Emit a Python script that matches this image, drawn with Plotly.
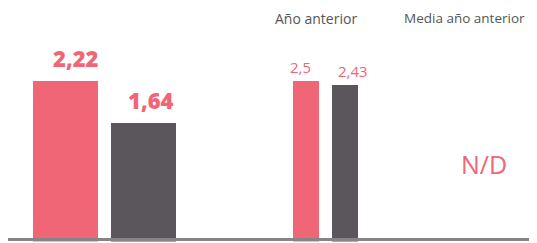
import plotly.graph_objects as go

# Data
series = ["Actual", "Comparativa"]
colors = ["#F06677", "#5A565B"]
current_values = [2.22, 1.64]
previous_values = [2.5, 2.43]
header_labels = ["Año anterior", "Media año anterior"]
missing_label = "N/D"

def fmt(v):
    return str(v).replace(".", ",")

# The page body has an 8px default margin; compensate so the picture lines up.
OFF = 8
W, H = 537 - OFF, 243 - OFF
FONT = "Open Sans"

def px(x):
    return (x - OFF) / W

def py(y):
    return 1 - (y - OFF) / H

fig = go.Figure()

fig.add_trace(go.Bar(
    x=series, y=current_values, marker=dict(color=colors, line=dict(width=0)),
    width=0.833, xaxis="x", yaxis="y", hoverinfo="skip", showlegend=False,
))
fig.add_trace(go.Bar(
    x=series, y=previous_values, marker=dict(color=colors, line=dict(width=0)),
    width=0.667, xaxis="x2", yaxis="y2", hoverinfo="skip", showlegend=False,
))

annotations = []
big_shifts = [10.5, 7]
for s, v, xs in zip(series, current_values, big_shifts):
    annotations.append(dict(
        x=s, y=v, xref="x", yref="y", text=fmt(v), showarrow=False,
        xanchor="center", yanchor="bottom", xshift=xs, yshift=6,
        font=dict(family=FONT, size=22, color=colors[0], weight=800),
    ))
small_shifts = [-6, 7.5]
for s, v, xs in zip(series, previous_values, small_shifts):
    annotations.append(dict(
        x=s, y=v, xref="x2", yref="y2", text=fmt(v), showarrow=False,
        xanchor="center", yanchor="bottom", xshift=xs, yshift=2,
        font=dict(family=FONT, size=15, color=colors[0]),
    ))
header_pos = [(316, "center", 14), (526, "right", 13.5)]
for lab, (hx, anchor, fs) in zip(header_labels, header_pos):
    annotations.append(dict(
        x=px(hx), y=1, xref="paper", yref="paper", text=lab,
        showarrow=False, xanchor=anchor, yanchor="top", borderpad=0,
        font=dict(family=FONT, size=fs, color="#555555"),
    ))
annotations.append(dict(
    x=px(484), y=py(164), xref="paper", yref="paper", text=missing_label,
    showarrow=False, xanchor="center", yanchor="middle",
    font=dict(family=FONT, size=25, color=colors[0]),
))

bottom_px = 241.5
top_px_max = 81
scale_h = bottom_px - top_px_max
dom_h = bottom_px - OFF  # from figure top to bar bottom

fig.update_layout(
    width=W, height=H, margin=dict(l=0, r=0, t=0, b=0),
    paper_bgcolor="white", plot_bgcolor="white",
    bargap=0, annotations=annotations,
    xaxis=dict(domain=[0, 1], range=[(OFF - 65.5) / 78, (537 - 65.5) / 78], visible=False, fixedrange=True),
    yaxis=dict(domain=[py(bottom_px), 1], range=[0, max(current_values) * dom_h / scale_h], visible=False),
    xaxis2=dict(overlaying="x", range=[(OFF - 306) / 39, (537 - 306) / 39], visible=False),
    yaxis2=dict(overlaying="y", range=[0, max(previous_values) * dom_h / scale_h], visible=False),
    shapes=[dict(type="line", xref="paper", yref="paper", x0=0, x1=1,
                 y0=py(239.5), y1=py(239.5), line=dict(color="#858585", width=3))],
)

fig.write_html("out.html")
